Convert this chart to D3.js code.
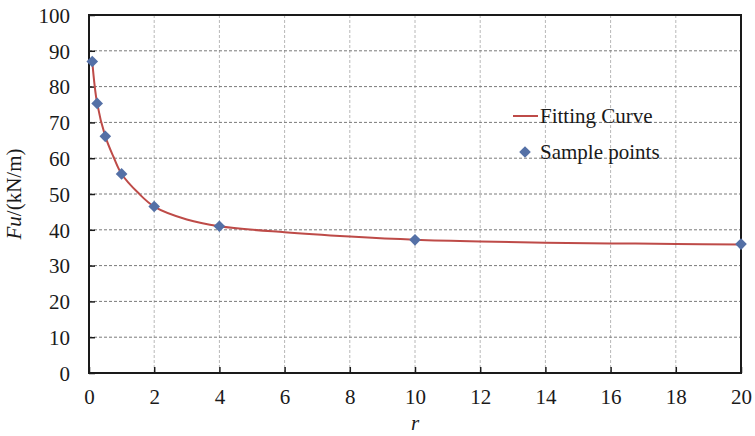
<!DOCTYPE html>
<html>
<head>
<meta charset="utf-8">
<script src="https://cdn.jsdelivr.net/npm/d3@7/dist/d3.min.js"></script>
<style>
  html, body { margin: 0; padding: 0; background: #fff; }
  svg { display: block; }
  svg text { font-family: "Liberation Serif", "Times New Roman", Times, serif; }
</style>
</head>
<body>
<svg id="chart" width="755" height="436"></svg>
<script>
// Sample points: ratio r against ultimate force Fu (kN/m)
const sampleR = [0.1, 0.25, 0.5, 1, 2, 4, 10, 20];
const sampleFu = [87.0, 75.3, 66.1, 55.6, 46.5, 41.0, 37.2, 36.0];

// Fitted curve, read at these r values
const curveR = [0.1, 0.25, 0.5, 0.75, 1, 1.5, 2, 3, 4, 6, 8, 10, 12, 14, 16, 18, 20];
const curveFu = [87.0, 75.3, 66.1, 60.4, 55.6, 50.4, 46.5, 42.9, 41.0, 39.3, 38.1, 37.2, 36.7, 36.4, 36.2, 36.05, 35.9];

const xTicks = [0, 2, 4, 6, 8, 10, 12, 14, 16, 18, 20];
const yTicks = [0, 10, 20, 30, 40, 50, 60, 70, 80, 90, 100];

const FONT = "'Liberation Serif', 'Times New Roman', Times, serif";
const svg = d3.select("#chart");
const plotL = 89, plotR = 741, plotT = 15, plotB = 373;

const x = d3.scaleLinear().domain([0, 20]).range([plotL, plotR]);
const y = d3.scaleLinear().domain([0, 100]).range([plotB, plotT]);

// Grid: vertical lines light, horizontal lines darker
svg.append("g").selectAll("line").data(xTicks.slice(1, -1)).join("line")
  .attr("x1", d => x(d)).attr("x2", d => x(d))
  .attr("y1", plotT).attr("y2", plotB)
  .attr("stroke", "#b8b8b8").attr("stroke-width", 1).attr("stroke-dasharray", "3,2");
svg.append("g").selectAll("line").data(yTicks.slice(1, -1)).join("line")
  .attr("x1", plotL).attr("x2", plotR)
  .attr("y1", d => y(d)).attr("y2", d => y(d))
  .attr("stroke", "#7a7a7a").attr("stroke-width", 1).attr("stroke-dasharray", "3,2");

// Axes with inward ticks
const xAxis = svg.append("g").attr("transform", `translate(0,${plotB})`)
  .call(d3.axisBottom(x).tickValues(xTicks).tickSize(-6).tickPadding(16).tickFormat(d3.format("d")));
const yAxis = svg.append("g").attr("transform", `translate(${plotL},0)`)
  .call(d3.axisLeft(y).tickValues(yTicks).tickSize(-6).tickPadding(19).tickFormat(d3.format("d")));
[xAxis, yAxis].forEach(g => {
  g.attr("font-family", null).attr("font-size", null);
  g.select(".domain").remove();
  g.selectAll(".tick line").attr("stroke", "#1a1a1a").attr("stroke-width", 1.5);
  g.selectAll(".tick text").style("font-family", FONT)
    .style("font-size", "21px").attr("fill", "#1a1a1a");
});
xAxis.selectAll(".tick text").attr("dy", "0.71em");
yAxis.selectAll(".tick text").attr("dy", "0.35em");

// Frame
svg.append("rect").attr("x", plotL).attr("y", plotT)
  .attr("width", plotR - plotL).attr("height", plotB - plotT)
  .attr("fill", "none").attr("stroke", "#1a1a1a").attr("stroke-width", 2);

// Fitted curve
const line = d3.line().x(d => x(d[0])).y(d => y(d[1])).curve(d3.curveCatmullRom.alpha(0.5));
svg.append("path").datum(d3.zip(curveR, curveFu))
  .attr("d", line).attr("fill", "none")
  .attr("stroke", "#BE4B48").attr("stroke-width", 2);

// Sample points as diamonds
const diamond = d3.symbol().type(d3.symbolSquare).size(68);
svg.append("g").selectAll("path").data(d3.zip(sampleR, sampleFu)).join("path")
  .attr("d", diamond)
  .attr("transform", d => `translate(${x(d[0])},${y(d[1])}) rotate(45)`)
  .attr("fill", "#5470A6");

// Legend
const lg = svg.append("g");
lg.append("line").attr("x1", 513).attr("x2", 538).attr("y1", 116).attr("y2", 116)
  .attr("stroke", "#BE4B48").attr("stroke-width", 2);
lg.append("text").attr("x", 540).attr("y", 123).style("font-family", FONT).style("font-size", "21px")
  .attr("fill", "#1a1a1a").text("Fitting Curve");
lg.append("path").attr("d", diamond).attr("transform", "translate(525,152) rotate(45)")
  .attr("fill", "#5470A6");
lg.append("text").attr("x", 540).attr("y", 159).style("font-family", FONT).style("font-size", "21px")
  .attr("fill", "#1a1a1a").text("Sample points");

// Axis titles
svg.append("text").attr("x", x(10)).attr("y", 430).attr("text-anchor", "middle")
  .style("font-family", FONT).style("font-size", "21px").style("font-style", "italic")
  .attr("fill", "#1a1a1a").text("r");
const yt = svg.append("text").attr("transform", "translate(21,194) rotate(-90)")
  .attr("text-anchor", "middle").style("font-family", FONT).style("font-size", "21px")
  .attr("fill", "#1a1a1a");
yt.append("tspan").style("font-style", "italic").text("Fu");
yt.append("tspan").text("/(kN/m)");
</script>
</body>
</html>
